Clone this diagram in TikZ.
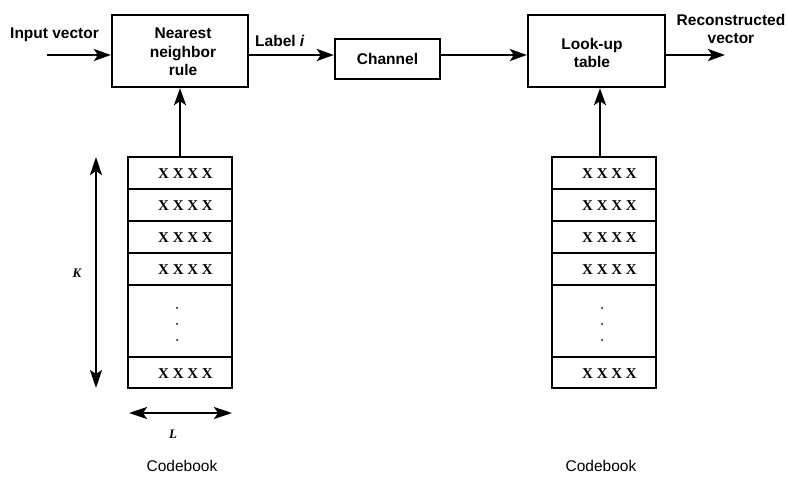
\documentclass[tikz,border=0pt]{standalone}
\usepackage{fontspec}
\setmainfont{Liberation Sans}
\newfontfamily\serifbf{Liberation Serif}
\usetikzlibrary{arrows.meta}
\begin{document}
\begin{tikzpicture}[x=1pt,y=-1pt,
  lw/.style={line width=2.3pt},
  blk/.style={draw,lw,rectangle,inner sep=0pt,align=center,font=\fontsize{15.5}{18.5}\selectfont\bfseries},
  row/.style={draw,lw,rectangle,inner sep=0pt,minimum width=104pt,minimum height=32pt},
  xs/.style={font=\fontsize{15}{18}\selectfont\serifbf\bfseries},
  lbl/.style={font=\fontsize{15.5}{18.5}\selectfont\bfseries,inner sep=0pt,align=center},
  captxt/.style={font=\fontsize{15.5}{18.5}\selectfont,inner sep=0pt},
  dimtxt/.style={font=\fontsize{13}{15}\selectfont\serifbf\bfseries\itshape,inner sep=0pt},
  arr/.style={lw,-{Stealth[length=17pt,width=12pt,inset=4pt]}},
  darr/.style={lw,{Stealth[length=18pt,width=12pt,inset=4pt]}-{Stealth[length=18pt,width=12pt,inset=4pt]}}
]
\useasboundingbox (0,0) rectangle (788,478);
% main blocks
\node[blk,minimum width=136pt,minimum height=72pt] (nn) at (180,51) {};
\node[lbl] (nntxt) at (183,52) {Nearest\\neighbor\\rule};
\node[blk,minimum width=105pt,minimum height=40pt] (ch) at (387.5,59) {Channel};
\node[blk,minimum width=137pt,minimum height=72pt] (lut) at (596.5,51) {};
\node[lbl] (luttxt) at (592,53) {Look-up\\table};
% input / output
\coordinate (in) at (47,55);
\coordinate (out) at (725,55);
\node[lbl,anchor=base west] (intxt) at (10,39) {Input vector};
\node[lbl] (outtxt) at (731,29) {Reconstructed\\vector};
\draw[arr] (in) -- (in -| nn.west);
\coordinate (nnr) at (nn.east |- in);
\coordinate (chl) at (ch.west |- in);
\draw[arr] (nnr) -- (chl);
\node[lbl,anchor=base west] (labi) at (255,46.7) {Label \textit{i}};
\coordinate (chr) at (ch.east |- in);
\coordinate (lutl) at (lut.west |- in);
\draw[arr] (chr) -- (lutl);
\coordinate (lutr) at (lut.east |- in);
\draw[arr] (lutr) -- (out);
% left codebook
\foreach \n/\y in {1/173,2/205,3/237,4/269}{
  \node[row] (a\n) at (180,\y) {};
  \node[xs] (ax\n) at (185.5,\y+1) {X X X X};
}
\node[row,minimum height=72pt] (a5) at (180,321) {};
\node[row,minimum height=31pt] (a6) at (180,372.5) {};
\node[xs] (ax6) at (185.5,373.5) {X X X X};
\foreach \y in {308,324,340}{
  \fill (177,\y) circle (1pt);
}
\draw[arr] (a1.north) -- (nn.south);
% right codebook
\foreach \n/\y in {1/173,2/205,3/237,4/269}{
  \node[row] (b\n) at (604,\y) {};
  \node[xs] (bx\n) at (609.5,\y+1) {X X X X};
}
\node[row,minimum height=72pt] (b5) at (604,321) {};
\node[row,minimum height=31pt] (b6) at (604,372.5) {};
\node[xs] (bx6) at (609.5,373.5) {X X X X};
\foreach \y in {308,324,340}{
  \fill (602,\y) circle (1pt);
}
\coordinate (bt) at (600,157);
\draw[arr] (bt) -- (bt |- lut.south);
% dimension arrows
\coordinate (kt) at (96,157);
\coordinate (kb) at (96,388);
\draw[darr] (kt) -- (kb);
\node[dimtxt] (K) at (77,273) {K};
\coordinate (ll) at (129,413);
\coordinate (lr) at (232,413);
\draw[darr] (ll) -- (lr);
\node[dimtxt] (L) at (173,434) {L};
% captions
\node[captxt] (c1) at (182,466) {Codebook};
\node[captxt] (c2) at (601,466) {Codebook};
\end{tikzpicture}
\end{document}
